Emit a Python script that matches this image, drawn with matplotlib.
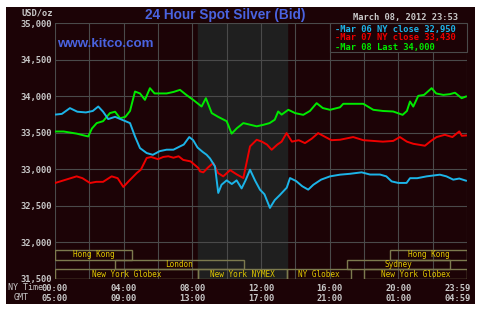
import matplotlib
matplotlib.use("Agg")
import matplotlib.pyplot as plt
from matplotlib.patches import Rectangle
from matplotlib.transforms import ScaledTranslation

# NY time in hours, bid price in USD/oz
mar06_hours = [0.0, 0.4, 0.87, 1.3, 1.8, 2.2, 2.52, 2.8, 3.1, 3.5, 3.9, 4.37, 4.66, 4.95,
               5.34, 5.7, 6.1, 6.5, 6.9, 7.28, 7.5, 7.82, 8.05, 8.3, 8.6, 8.83, 9.03, 9.32,
               9.51, 9.7, 10.0, 10.3, 10.58, 10.87, 11.1, 11.36, 11.65, 11.94, 12.2, 12.52,
               12.8, 13.1, 13.5, 13.69, 14.05, 14.4, 14.75, 15.05, 15.5, 16.02, 16.6, 17.18,
               17.86, 18.35, 18.93, 19.3, 19.61, 20.0, 20.48, 20.68, 21.1, 21.65, 22.42,
               22.8, 23.2, 23.55, 23.94]
mar06_bid = [33750, 33760, 33839, 33790, 33780, 33800, 33861, 33790, 33689, 33720, 33680,
             33634, 33451, 33292, 33224, 33200, 33250, 33270, 33270, 33315, 33340, 33443,
             33400, 33300, 33240, 33201, 33150, 33041, 32678, 32790, 32850, 32800, 32850,
             32740, 32850, 32996, 32850, 32723, 32660, 32473, 32580, 32650, 32750, 32882,
             32840, 32770, 32723, 32790, 32860, 32905, 32928, 32940, 32960, 32930, 32930,
             32905, 32836, 32815, 32815, 32880, 32880, 32905, 32928, 32905, 32860, 32875,
             32846]

mar07_hours = [0.0, 0.5, 1.26, 1.6, 2.04, 2.4, 2.8, 3.3, 3.65, 3.98, 4.3, 4.76, 5.0, 5.34,
               5.6, 6.0, 6.3, 6.6, 6.9, 7.2, 7.47, 7.9, 8.35, 8.45, 8.64, 8.93, 9.22, 9.5,
               9.8, 10.2, 10.6, 10.97, 11.15, 11.36, 11.75, 12.05, 12.35, 12.62, 12.95,
               13.2, 13.49, 13.8, 14.2, 14.56, 14.95, 15.33, 15.7, 16.1, 16.6, 17.37,
               17.96, 18.54, 19.1, 19.7, 20.09, 20.5, 20.87, 21.55, 21.9, 22.23, 22.71,
               23.15, 23.55, 23.7, 23.94]
mar07_bid = [32814, 32850, 32905, 32880, 32814, 32830, 32830, 32905, 32880, 32760, 32840,
             32950, 32996, 33156, 33170, 33140, 33170, 33180, 33160, 33180, 33130, 33110,
             33019, 32973, 32960, 33030, 33088, 32950, 32905, 32990, 32930, 32882, 33080,
             33315, 33406, 33380, 33340, 33269, 33340, 33380, 33497, 33380, 33400, 33360,
             33420, 33497, 33450, 33400, 33406, 33443, 33400, 33390, 33380, 33390, 33443,
             33380, 33351, 33324, 33390, 33443, 33474, 33443, 33520, 33460, 33465]

mar08_hours = [0.0, 0.5, 1.26, 1.6, 1.94, 2.15, 2.43, 2.8, 3.2, 3.5, 3.79, 4.1, 4.37,
               4.66, 4.95, 5.24, 5.53, 5.8, 6.1, 6.5, 6.9, 7.28, 7.65, 8.05, 8.54, 8.79,
               9.13, 9.5, 10.0, 10.29, 10.6, 10.97, 11.4, 11.75, 12.13, 12.5, 12.8, 13.0,
               13.2, 13.59, 14.0, 14.46, 14.85, 15.24, 15.6, 16.02, 16.6, 16.79, 17.96,
               18.54, 19.1, 19.7, 20.25, 20.5, 20.68, 20.87, 21.16, 21.5, 21.94, 22.2,
               22.62, 23.0, 23.3, 23.69, 23.94]
mar08_bid = [33519, 33519, 33490, 33470, 33451, 33560, 33634, 33660, 33771, 33790, 33700,
             33720, 33800, 34066, 34040, 33952, 34112, 34040, 34040, 34040, 34060, 34089,
             34020, 33952, 33861, 33975, 33771, 33720, 33660, 33490, 33565, 33634, 33610,
             33590, 33610, 33634, 33680, 33793, 33750, 33816, 33770, 33747, 33800, 33907,
             33840, 33816, 33850, 33898, 33898, 33816, 33800, 33793, 33747, 33800, 33930,
             33860, 34007, 34020, 34112, 34040, 34020, 34030, 34050, 33975, 33998]

legend_labels = ["-Mar 06 NY close 32,950", "-Mar 07 NY close 33,430", "-Mar 08 Last 34,000"]
ny_time_labels = ["00:00", "04:00", "08:00", "12:00", "16:00", "20:00", "23:59"]
gmt_labels = ["05:00", "09:00", "13:00", "17:00", "21:00", "01:00", "04:59"]
price_ticks = [31500, 32000, 32500, 33000, 33500, 34000, 34500, 35000]

# trading sessions: name, start, end (NY hours), row (0 = top)
session_names = ["Hong Kong", "London", "New York Globex", "New York NYMEX", "NY Globex",
                 "Sydney", "Hong Kong", "New York Globex"]
session_start = [0.0, 3.5, 0.0, 8.33, 13.5, 17.0, 19.5, 18.0]
session_end = [4.5, 11.0, 8.33, 13.5, 17.25, 23.0, 24.0, 24.0]
session_row = [0, 1, 2, 2, 2, 1, 0, 2]
nymex_open, nymex_close = 8.33, 13.5

bg = "#1c0306"
grid_c = "#4a4a4a"
mono = "DejaVu Sans Mono"
tick_c = "#c8c8c8"

fig = plt.figure(figsize=(4.82, 3.11), dpi=100)
fig.patch.set_facecolor("white")
W, H = 482.0, 311.0
fig.patches.append(Rectangle((6 / W, 1 - 304 / H), 469 / W, 297 / H,
                             transform=fig.transFigure, facecolor=bg, edgecolor="none", zorder=-10))

ax = fig.add_axes([55 / W, 1 - 279 / H, 412 / W, 255.7 / H])
ax.set_zorder(1)
ax.set_facecolor(bg)
ax.set_xlim(0, 24)
ax.set_ylim(31500, 35000)
ax.axvspan(nymex_open, nymex_close, color="#1f1f1f", zorder=0)

ax.set_yticks(price_ticks)
ax.set_yticklabels([f"{p:,}" for p in price_ticks])
ax.set_xticks(range(0, 25, 4))
ax.set_xticks(range(2, 24, 4), minor=True)
ax.set_xticklabels([a + "\n" + b for a, b in zip(ny_time_labels, gmt_labels)], linespacing=1.15)
ax.tick_params(length=0, which="both", colors=tick_c, labelsize=6.3, pad=2)
ax.tick_params(axis="x", pad=3.5)
for lab in ax.get_xticklabels() + ax.get_yticklabels():
    lab.set_fontfamily(mono)
    lab.set_fontweight("bold")
last = ax.get_xticklabels()[-1]
last.set_transform(last.get_transform() + ScaledTranslation(-9 / 100, 0, fig.dpi_scale_trans))
ax.grid(True, which="both", color=grid_c, lw=0.8)
ax.set_axisbelow(True)
for s in ax.spines.values():
    s.set_visible(False)

ax.plot(mar07_hours, mar07_bid, color="#ee0000", lw=1.4, zorder=3)
ax.plot(mar08_hours, mar08_bid, color="#00ea00", lw=1.4, zorder=3)
ax.plot(mar06_hours, mar06_bid, color="#1cb4e8", lw=1.4, zorder=4)

# session bars along the bottom
row_h = 400 / 3
for name, x0, x1, r in zip(session_names, session_start, session_end, session_row):
    y0 = 31900 - (r + 1) * row_h
    ax.add_patch(Rectangle((x0, y0), x1 - x0, row_h, facecolor="none",
                           edgecolor="#7c7a4e", lw=1, zorder=5))
    ax.text((x0 + x1) / 2, y0 + row_h / 2, name, ha="center", va="center",
            fontsize=5.6, family=mono, color="#e0c800", zorder=6)

# legend box
ax.add_patch(Rectangle((0.6675, 0.8866), 0.3325, 0.1134, transform=ax.transAxes,
                       facecolor=bg, edgecolor=grid_c, lw=0.8, zorder=6, clip_on=False))
for lab, col, yy in zip(legend_labels, ["#1cb4e8", "#ee0000", "#00ea00"], [0.9777, 0.9433, 0.906]):
    ax.text(0.6796, yy, lab, transform=ax.transAxes, ha="left", va="center",
            fontsize=6.3, family=mono, fontweight="bold", color=col, zorder=7)

fig.text(225.5 / W, 1 - 15 / H, "24 Hour Spot Silver (Bid)", ha="center", va="center",
         fontsize=9.8, family="Liberation Sans", fontweight="bold", color="#4a63e0")
fig.text(57 / W, 1 - 44 / H, "www.kitco.com", ha="left", va="center", zorder=5,
         fontsize=9.6, family="Liberation Sans", fontweight="bold", color="#4a63e0")
fig.text(21 / W, 1 - 13 / H, "USD/oz", ha="left", va="center",
         fontsize=6.3, family=mono, fontweight="bold", color=tick_c)
fig.text(458 / W, 1 - 17.7 / H, "March 08, 2012 23:53", ha="right", va="center",
         fontsize=6.3, family=mono, fontweight="bold", color=tick_c)
fig.text(8 / W, 1 - 288 / H, "NY Time", ha="left", va="center",
         fontsize=6.0, family=mono, color=tick_c)
fig.text(21 / W, 1 - 298 / H, "GMT", ha="center", va="center",
         fontsize=6.0, family=mono, color=tick_c)

fig.savefig("out.png", dpi=100, facecolor=fig.get_facecolor())
